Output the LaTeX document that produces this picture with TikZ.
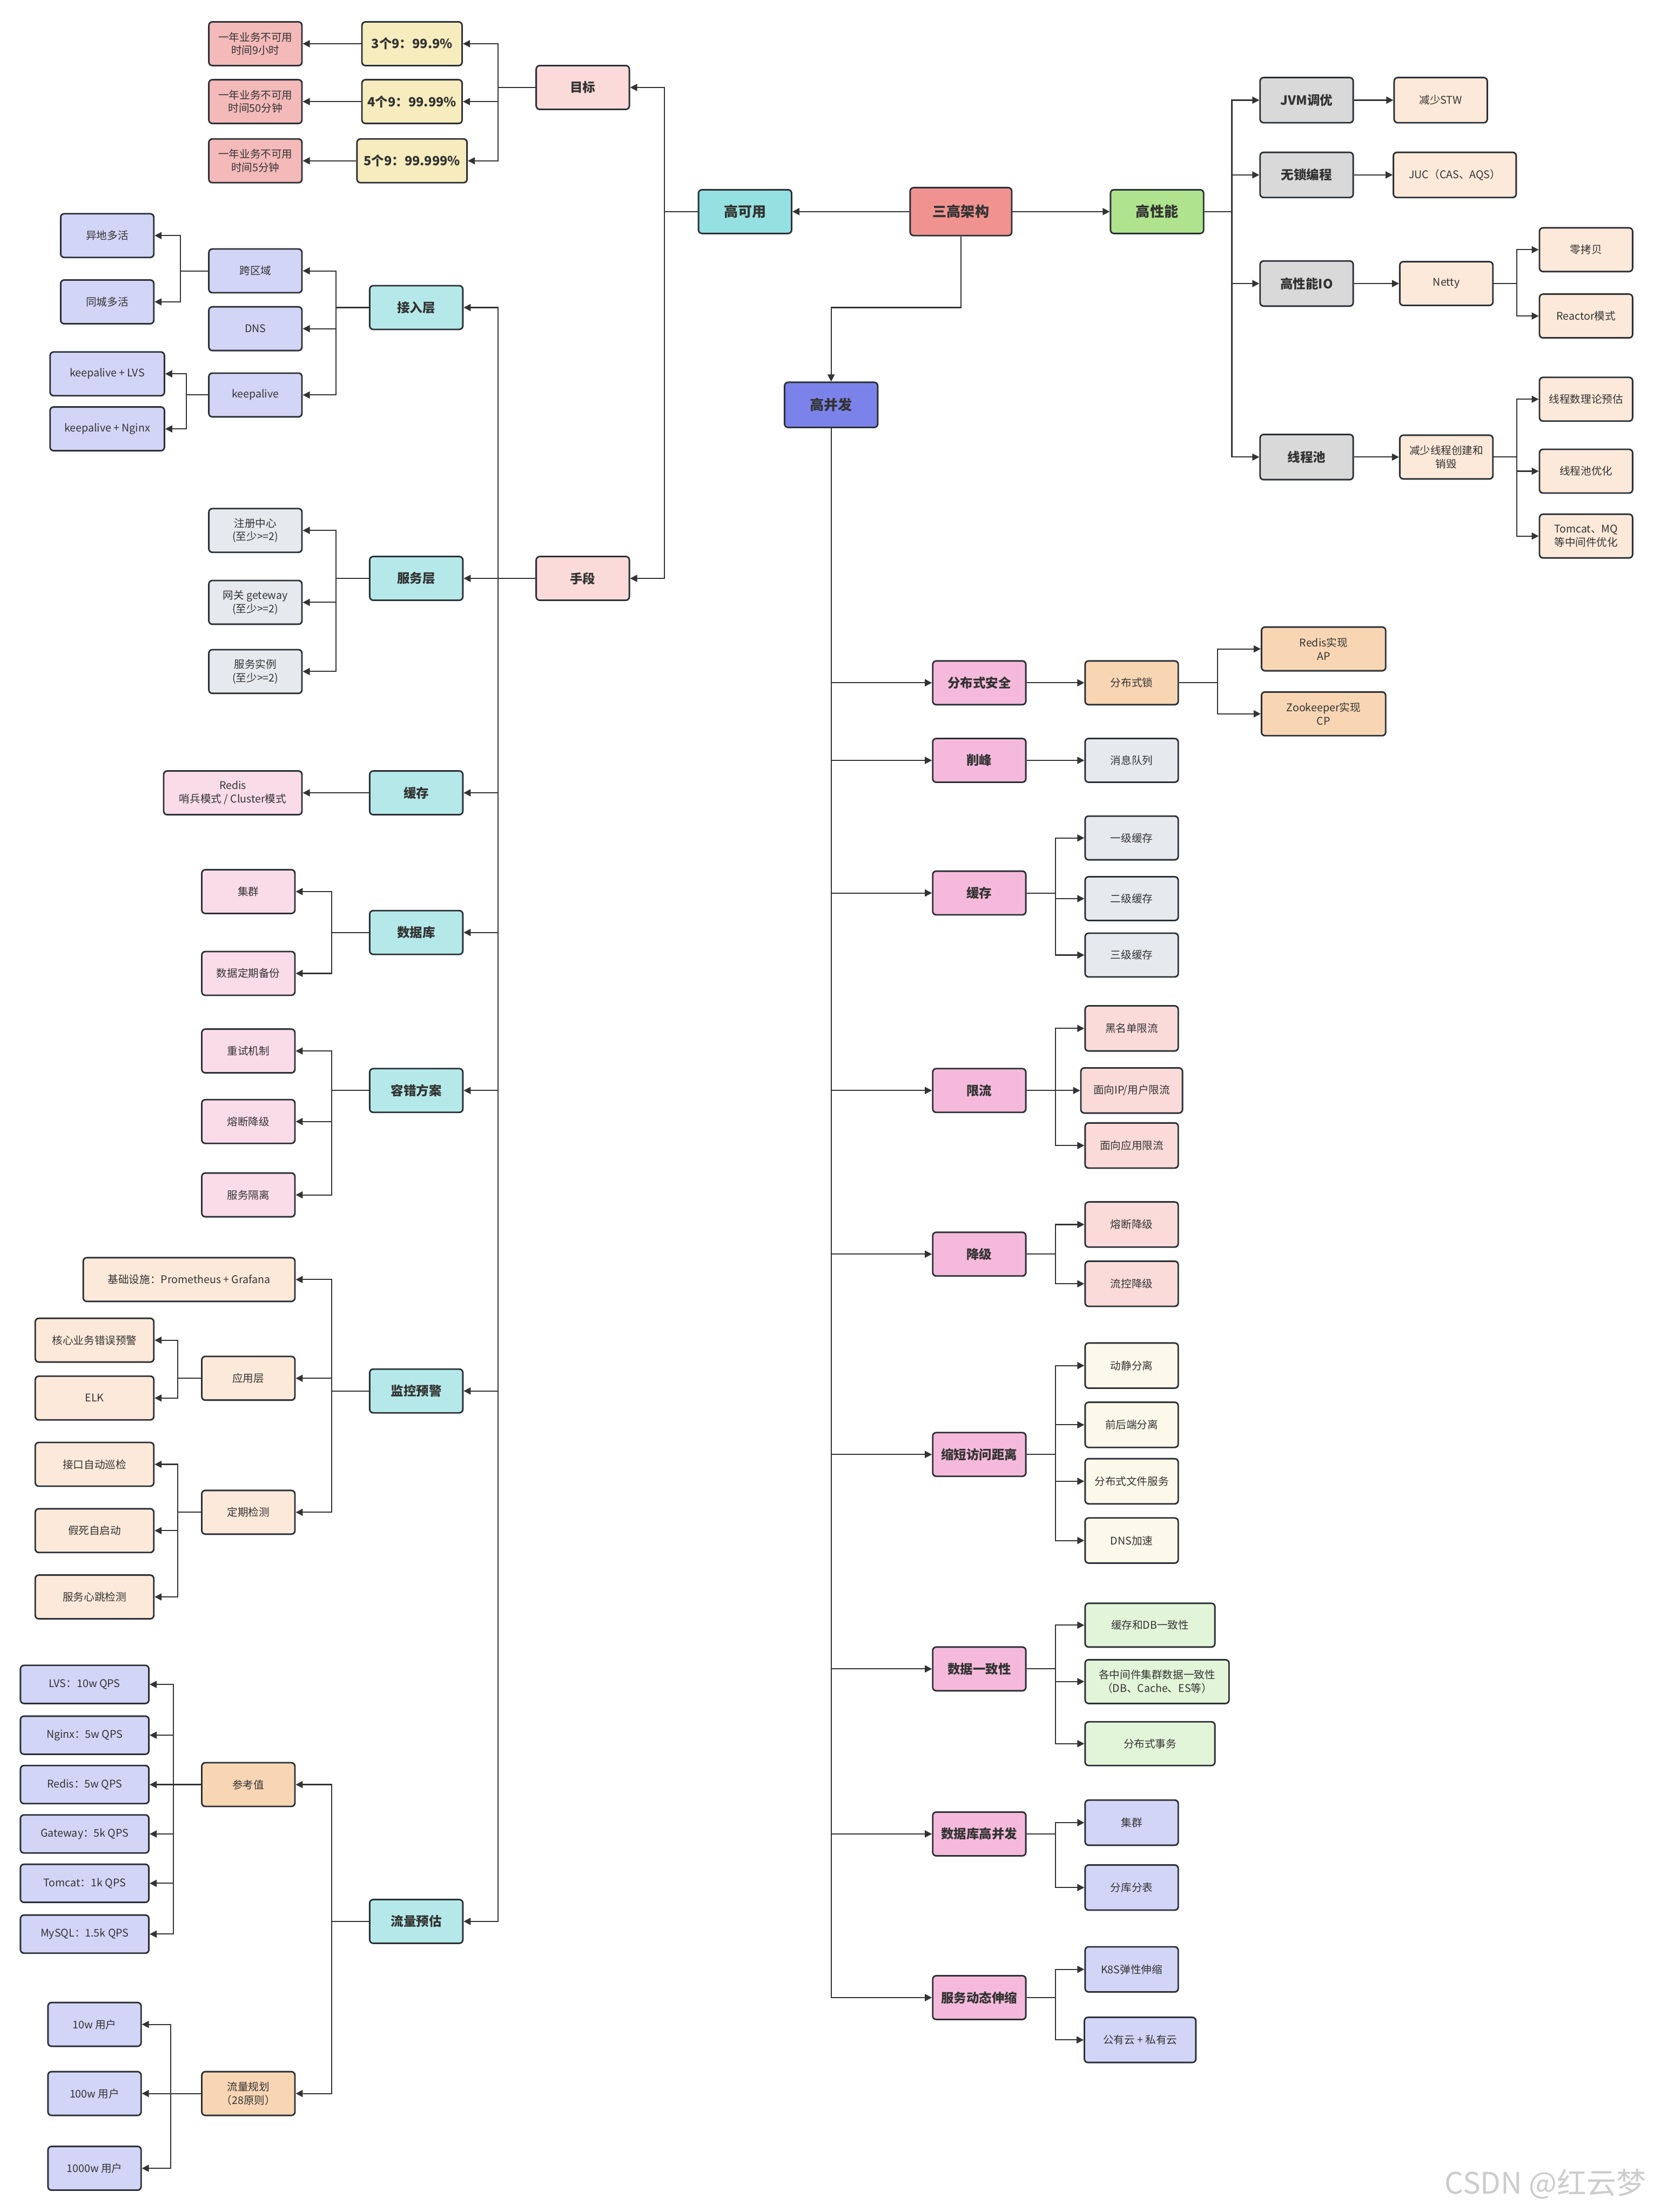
\documentclass[tikz,border=0pt]{standalone}
\usepackage{fontspec}
\setmainfont{Noto Sans CJK SC}
\usetikzlibrary{arrows.meta}
\definecolor{cSan}{HTML}{F0928F}
\definecolor{cKy}{HTML}{95E0E0}
\definecolor{cXn}{HTML}{AFE38D}
\definecolor{cBf}{HTML}{7B83EB}
\definecolor{cMid}{HTML}{FADBDA}
\definecolor{cYel}{HTML}{F6ECBE}
\definecolor{cRed}{HTML}{F4B9B9}
\definecolor{cCy}{HTML}{B5E9E9}
\definecolor{cLav}{HTML}{D3D5F7}
\definecolor{cGl}{HTML}{E6E9ED}
\definecolor{cPl}{HTML}{FADCE9}
\definecolor{cPe}{HTML}{FCE9D9}
\definecolor{cPch}{HTML}{F8D6B4}
\definecolor{cGr}{HTML}{D9D9D9}
\definecolor{cPk}{HTML}{F5BADB}
\definecolor{cCr}{HTML}{FCF8EA}
\definecolor{cGn}{HTML}{E3F5D9}
\definecolor{cBd}{HTML}{2B3036}
\definecolor{cLn}{HTML}{333333}
\definecolor{cTx}{HTML}{333333}
\tikzset{
  box/.style={draw=cBd, line width=1.1pt, rounded corners=2.5pt, inner sep=1pt, align=center,
    text=cTx, font=\fontsize{7.5}{9.5}\selectfont, minimum width=66pt, minimum height=31pt},
  bbox/.style={box, font=\bfseries\fontsize{9}{11}\selectfont},
  tbox/.style={box, font=\bfseries\fontsize{10}{12}\selectfont},
  W/.style 2 args={minimum width=#1pt, minimum height=#2pt},
  arr/.style={draw=cLn, line width=0.8pt, -{Triangle[length=5pt,width=5pt]}},
}
\begin{document}
\begin{tikzpicture}[x=1pt,y=-1pt]
\fill[white] (0,0) rectangle (1172,1568);

% ---------- top level ----------
\node[tbox, fill=cSan, W={72}{34}] (san) at (681,150) {三高架构};
\node[tbox, fill=cKy] (ky) at (528,150) {高可用};
\node[tbox, fill=cXn] (xn) at (820,150) {高性能};
\node[tbox, fill=cBf, W={66}{32}] (bf) at (589,287) {高并发};
\coordinate (kb) at (589,218);
\draw[arr] (san.west) -- (ky.east);
\draw[arr] (san.east) -- (xn.west);
\draw[arr] (san.south) |- (kb) -- (bf.north);

% ---------- high availability ----------
\node[bbox, fill=cMid] (mb) at (413,62) {目标};
\node[bbox, fill=cMid] (sd) at (413,410) {手段};
\coordinate (kyj) at (471,150);
\draw[arr] (ky.west) -- (kyj) |- (mb.east);
\draw[arr] (ky.west) -- (kyj) |- (sd.east);

\node[bbox, fill=cYel, W={71}{31}] (n3) at (292,31) {3个9：99.9\%};
\node[bbox, fill=cYel, W={71}{31}] (n4) at (292,72) {4个9：99.99\%};
\node[bbox, fill=cYel, W={78}{31}] (n5) at (292,114) {5个9：99.999\%};
\node[box, fill=cRed] (y3) at (181,31) {一年业务不可用\\时间9小时};
\node[box, fill=cRed] (y4) at (181,72) {一年业务不可用\\时间50分钟};
\node[box, fill=cRed] (y5) at (181,114) {一年业务不可用\\时间5分钟};
\coordinate (mbj) at (353,62);
\foreach \n in {n3,n4,n5} \draw[arr] (mb.west) -- (mbj) |- (\n.east);
\draw[arr] (n3.west) -- (y3.east);
\draw[arr] (n4.west) -- (y4.east);
\draw[arr] (n5.west) -- (y5.east);

% second level under 手段
\node[bbox, fill=cCy] (jr) at (295,218) {接入层};
\node[bbox, fill=cCy] (fw) at (295,410) {服务层};
\node[bbox, fill=cCy] (hc) at (295,562) {缓存};
\node[bbox, fill=cCy] (sj) at (295,661) {数据库};
\node[bbox, fill=cCy] (rc) at (295,773) {容错方案};
\node[bbox, fill=cCy] (jk) at (295,986) {监控预警};
\node[bbox, fill=cCy] (ll) at (295,1362) {流量预估};
\coordinate (sdj) at (353,410);
\foreach \n in {jr,fw,hc,sj,rc,jk,ll} \draw[arr] (sd.west) -- (sdj) |- (\n.east);

% 接入层
\node[box, fill=cLav] (kq) at (181,192) {跨区域};
\node[box, fill=cLav] (dns) at (181,233) {DNS};
\node[box, fill=cLav] (ka) at (181,280) {keepalive};
\coordinate (jrj) at (238,218);
\foreach \n in {kq,dns,ka} \draw[arr] (jr.west) -- (jrj) |- (\n.east);
\node[box, fill=cLav] (yd) at (76,167) {异地多活};
\node[box, fill=cLav] (tc) at (76,214) {同城多活};
\coordinate (kqj) at (128,192);
\foreach \n in {yd,tc} \draw[arr] (kq.west) -- (kqj) |- (\n.east);
\node[box, fill=cLav, W={81}{31}] (klvs) at (76,265) {keepalive + LVS};
\node[box, fill=cLav, W={81}{31}] (kngx) at (76,304) {keepalive + Nginx};
\coordinate (kaj) at (132,280);
\foreach \n in {klvs,kngx} \draw[arr] (ka.west) -- (kaj) |- (\n.east);

% 服务层
\node[box, fill=cGl] (zc) at (181,376) {注册中心\\(至少>=2)};
\node[box, fill=cGl] (wg) at (181,427) {网关 geteway\\(至少>=2)};
\node[box, fill=cGl] (sl) at (181,476) {服务实例\\(至少>=2)};
\coordinate (fwj) at (238,410);
\foreach \n in {zc,wg,sl} \draw[arr] (fw.west) -- (fwj) |- (\n.east);

% 缓存
\node[box, fill=cPl, W={98}{31}] (rds) at (165,562) {Redis\\哨兵模式 / Cluster模式};
\draw[arr] (hc.west) -- (rds.east);

% 数据库
\node[box, fill=cPl] (jq) at (176,632) {集群};
\node[box, fill=cPl] (bk) at (176,690) {数据定期备份};
\coordinate (sjj) at (235,661);
\foreach \n in {jq,bk} \draw[arr] (sj.west) -- (sjj) |- (\n.east);

% 容错方案
\node[box, fill=cPl] (cs) at (176,745) {重试机制};
\node[box, fill=cPl] (rd) at (176,795) {熔断降级};
\node[box, fill=cPl] (gl) at (176,847) {服务隔离};
\coordinate (rcj) at (235,773);
\foreach \n in {cs,rd,gl} \draw[arr] (rc.west) -- (rcj) |- (\n.east);

% 监控预警
\node[box, fill=cPe, W={150}{31}] (jcs) at (134,907) {基础设施：Prometheus + Grafana};
\node[box, fill=cPe] (yy) at (176,977) {应用层};
\node[box, fill=cPe] (dq) at (176,1072) {定期检测};
\coordinate (jkj) at (235,986);
\foreach \n in {jcs,yy,dq} \draw[arr] (jk.west) -- (jkj) |- (\n.east);
\node[box, fill=cPe, W={84}{31}] (hx) at (67,950) {核心业务错误预警};
\node[box, fill=cPe, W={84}{31}] (elk) at (67,991) {ELK};
\coordinate (yyj) at (126,977);
\foreach \n in {hx,elk} \draw[arr] (yy.west) -- (yyj) |- (\n.east);
\node[box, fill=cPe, W={84}{31}] (xj1) at (67,1038) {接口自动巡检};
\node[box, fill=cPe, W={84}{31}] (js) at (67,1085) {假死自启动};
\node[box, fill=cPe, W={84}{31}] (xt) at (67,1132) {服务心跳检测};
\coordinate (dqj) at (126,1072);
\foreach \n in {xj1,js,xt} \draw[arr] (dq.west) -- (dqj) |- (\n.east);

% 流量预估
\node[box, fill=cPch] (ck) at (176,1265) {参考值};
\node[box, fill=cPch] (gh) at (176,1484) {流量规划\\（28原则）};
\coordinate (llj) at (235,1362);
\foreach \n in {ck,gh} \draw[arr] (ll.west) -- (llj) |- (\n.east);
\node[box, fill=cLav, W={91}{27}] (q1) at (60,1194) {LVS：10w QPS};
\node[box, fill=cLav, W={91}{27}] (q2) at (60,1230) {Nginx：5w QPS};
\node[box, fill=cLav, W={91}{27}] (q3) at (60,1265) {Redis：5w QPS};
\node[box, fill=cLav, W={91}{27}] (q4) at (60,1300) {Gateway：5k QPS};
\node[box, fill=cLav, W={91}{27}] (q5) at (60,1335) {Tomcat：1k QPS};
\node[box, fill=cLav, W={91}{27}] (q6) at (60,1371) {MySQL：1.5k QPS};
\coordinate (ckj) at (123,1265);
\foreach \n in {q1,q2,q3,q4,q5,q6} \draw[arr] (ck.west) -- (ckj) |- (\n.east);
\node[box, fill=cLav] (u1) at (67,1435) {10w 用户};
\node[box, fill=cLav] (u2) at (67,1484) {100w 用户};
\node[box, fill=cLav] (u3) at (67,1537) {1000w 用户};
\coordinate (ghj) at (121,1484);
\foreach \n in {u1,u2,u3} \draw[arr] (gh.west) -- (ghj) |- (\n.east);

% ---------- high performance ----------
\node[bbox, fill=cGr, W={66}{32}] (jvm) at (926,71) {JVM调优};
\node[bbox, fill=cGr, W={66}{32}] (ws) at (926,124) {无锁编程};
\node[bbox, fill=cGr, W={66}{32}] (io) at (926,201) {高性能IO};
\node[bbox, fill=cGr, W={66}{32}] (xcc) at (926,324) {线程池};
\coordinate (xnj) at (873,150);
\foreach \n in {jvm,ws,io,xcc} \draw[arr] (xn.east) -- (xnj) |- (\n.west);
\node[box, fill=cPe, W={66}{32}] (stw) at (1021,71) {减少STW};
\node[box, fill=cPe, W={87}{32}] (juc) at (1031,124) {JUC（CAS、AQS）};
\node[box, fill=cPe] (nt) at (1025,201) {Netty};
\node[box, fill=cPe] (jsx) at (1025,324) {减少线程创建和\\销毁};
\draw[arr] (jvm.east) -- (stw.west);
\draw[arr] (ws.east) -- (juc.west);
\draw[arr] (io.east) -- (nt.west);
\draw[arr] (xcc.east) -- (jsx.west);
\node[box, fill=cPe] (lkb) at (1124,177) {零拷贝};
\node[box, fill=cPe] (rea) at (1124,224) {Reactor模式};
\coordinate (ntj) at (1075,201);
\foreach \n in {lkb,rea} \draw[arr] (nt.east) -- (ntj) |- (\n.west);
\node[box, fill=cPe] (xc1) at (1124,283) {线程数理论预估};
\node[box, fill=cPe] (xc2) at (1124,334) {线程池优化};
\node[box, fill=cPe] (xc3) at (1124,380) {Tomcat、MQ\\等中间件优化};
\coordinate (jsxj) at (1075,324);
\foreach \n in {xc1,xc2,xc3} \draw[arr] (jsx.east) -- (jsxj) |- (\n.west);

% ---------- high concurrency ----------
\node[bbox, fill=cPk] (p1) at (694,484) {分布式安全};
\node[bbox, fill=cPk] (p2) at (694,539) {削峰};
\node[bbox, fill=cPk] (p3) at (694,633) {缓存};
\node[bbox, fill=cPk] (p4) at (694,773) {限流};
\node[bbox, fill=cPk] (p5) at (694,889) {降级};
\node[bbox, fill=cPk] (p6) at (694,1031) {缩短访问距离};
\node[bbox, fill=cPk] (p7) at (694,1183) {数据一致性};
\node[bbox, fill=cPk] (p8) at (694,1300) {数据库高并发};
\node[bbox, fill=cPk] (p9) at (694,1416) {服务动态伸缩};
\foreach \n in {p1,p2,p3,p4,p5,p6,p7,p8,p9} \draw[arr] (bf.south) |- (\n.west);

\node[box, fill=cPch] (fsl) at (802,484) {分布式锁};
\draw[arr] (p1.east) -- (fsl.west);
\node[box, fill=cPch, W={88}{31}] (rap) at (938,460) {Redis实现\\AP};
\node[box, fill=cPch, W={88}{31}] (zcp) at (938,506) {Zookeeper实现\\CP};
\coordinate (fslj) at (863,484);
\foreach \n in {rap,zcp} \draw[arr] (fsl.east) -- (fslj) |- (\n.west);

\node[box, fill=cGl] (mq) at (802,539) {消息队列};
\draw[arr] (p2.east) -- (mq.west);

\node[box, fill=cGl] (c1) at (802,594) {一级缓存};
\node[box, fill=cGl] (c2) at (802,637) {二级缓存};
\node[box, fill=cGl] (c3) at (802,677) {三级缓存};
\coordinate (p3j) at (748,633);
\foreach \n in {c1,c2,c3} \draw[arr] (p3.east) -- (p3j) |- (\n.west);

\node[box, fill=cMid, W={66}{32}] (x1) at (802,729) {黑名单限流};
\node[box, fill=cMid, W={72}{32}] (x2) at (802,773) {面向IP/用户限流};
\node[box, fill=cMid, W={66}{32}] (x3) at (802,812) {面向应用限流};
\coordinate (p4j) at (748,773);
\foreach \n in {x1,x2,x3} \draw[arr] (p4.east) -- (p4j) |- (\n.west);

\node[box, fill=cMid, W={66}{32}] (d1) at (802,868) {熔断降级};
\node[box, fill=cMid, W={66}{32}] (d2) at (802,910) {流控降级};
\coordinate (p5j) at (748,889);
\foreach \n in {d1,d2} \draw[arr] (p5.east) -- (p5j) |- (\n.west);

\node[box, fill=cCr, W={66}{32}] (s1) at (802,968) {动静分离};
\node[box, fill=cCr, W={66}{32}] (s2) at (802,1010) {前后端分离};
\node[box, fill=cCr, W={66}{32}] (s3) at (802,1050) {分布式文件服务};
\node[box, fill=cCr, W={66}{32}] (s4) at (802,1092) {DNS加速};
\coordinate (p6j) at (748,1031);
\foreach \n in {s1,s2,s3,s4} \draw[arr] (p6.east) -- (p6j) |- (\n.west);

\node[box, fill=cGn, W={92}{31}] (g1) at (815,1152) {缓存和DB一致性};
\node[box, fill=cGn, W={102}{31}] (g2) at (820,1192) {各中间件集群数据一致性\\（DB、Cache、ES等）};
\node[box, fill=cGn, W={92}{31}] (g3) at (815,1236) {分布式事务};
\coordinate (p7j) at (748,1183);
\foreach \n in {g1,g2,g3} \draw[arr] (p7.east) -- (p7j) |- (\n.west);

\node[box, fill=cLav, W={66}{32}] (h1) at (802,1292) {集群};
\node[box, fill=cLav, W={66}{32}] (h2) at (802,1338) {分库分表};
\coordinate (p8j) at (748,1300);
\foreach \n in {h1,h2} \draw[arr] (p8.east) -- (p8j) |- (\n.west);

\node[box, fill=cLav, W={66}{32}] (k1) at (802,1396) {K8S弹性伸缩};
\node[box, fill=cLav, W={79}{32}] (k2) at (808,1446) {公有云 + 私有云};
\coordinate (p9j) at (748,1416);
\foreach \n in {k1,k2} \draw[arr] (p9.east) -- (p9j) |- (\n.west);

% watermark
\node[text=black!20, font=\fontsize{21}{24}\selectfont, anchor=east] (wm) at (1170,1548) {CSDN @红云梦};
\end{tikzpicture}
\end{document}
